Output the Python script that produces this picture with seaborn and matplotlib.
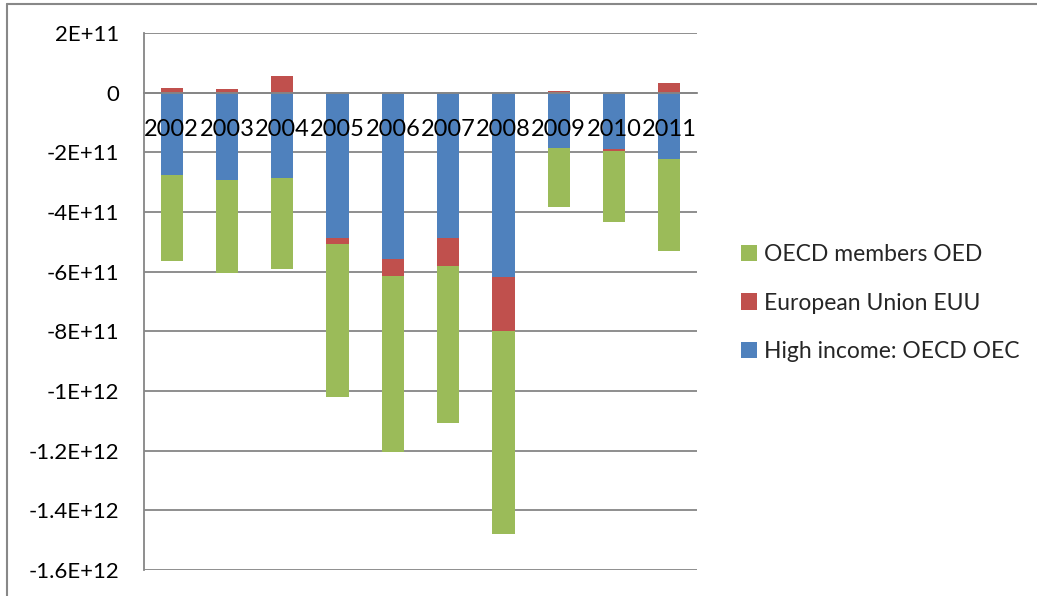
import numpy as np
import pandas as pd
import matplotlib
matplotlib.use("Agg")
import matplotlib.pyplot as plt
from matplotlib.patches import Patch
from matplotlib.lines import Line2D
import seaborn as sns

# data
years = ["2002", "2003", "2004", "2005", "2006", "2007", "2008", "2009", "2010", "2011"]
high_income_oec = [-2.75e11, -2.94e11, -2.85e11, -4.88e11, -5.58e11, -4.88e11, -6.19e11, -1.85e11, -1.89e11, -2.21e11]
european_union_euu = [1.4e10, 1.2e10, 5.7e10, -1.8e10, -5.6e10, -9.3e10, -1.8e11, 5e9, -6e9, 3.3e10]
oecd_members_oed = [-2.89e11, -3.09e11, -3.05e11, -5.13e11, -5.92e11, -5.27e11, -6.81e11, -1.99e11, -2.37e11, -3.09e11]

series_names = ["High income: OECD OEC", "European Union EUU", "OECD members OED"]
y_ticks = [2e11, 0, -2e11, -4e11, -6e11, -8e11, -1e12, -1.2e12, -1.4e12, -1.6e12]
y_tick_labels = ["2E+11", "0", "-2E+11", "-4E+11", "-6E+11", "-8E+11", "-1E+12", "-1.2E+12", "-1.4E+12", "-1.6E+12"]

colors = ["#4F81BD", "#C0504D", "#9BBB59"]
grid_col = "#868686"

sns.set_style("white")
plt.rcParams['font.family'] = ['Lato', 'DejaVu Sans']

W, H = 1037, 596
fig = plt.figure(figsize=(W / 100, H / 100), dpi=100)
ax = fig.add_axes([144 / W, 1 - 570 / H, (697 - 144) / W, (570 - 33) / H])

df = pd.DataFrame({"year": years,
                   series_names[0]: high_income_oec,
                   series_names[1]: european_union_euu,
                   series_names[2]: oecd_members_oed})

# excel-style stacking: positives on positives, negatives on negatives
pos_cum = np.zeros(len(years))
neg_cum = np.zeros(len(years))
for name, col in zip(series_names, colors):
    vals = df[name].to_numpy()
    bottom = np.where(vals >= 0, pos_cum, neg_cum)
    sns.barplot(data=df, x="year", y=name, bottom=bottom, color=col,
                width=0.4, saturation=1, linewidth=0, ax=ax, zorder=1)
    pos_cum = pos_cum + np.where(vals >= 0, vals, 0)
    neg_cum = neg_cum + np.where(vals < 0, vals, 0)

# gridlines under bars, axis labels over bars
for t in y_ticks:
    ax.axhline(t, color=grid_col, lw=1.3, zorder=0.5)
ax.set_axisbelow(False)

ax.set_ylim(-1.6e12, 2e11)
ax.set_xlim(-0.5, len(years) - 0.5)
ax.set_yticks(y_ticks)
ax.set_yticklabels(y_tick_labels)
ax.set_xlabel("")
ax.set_ylabel("")

ax.spines["top"].set_visible(False)
ax.spines["right"].set_visible(False)
ax.spines["left"].set_color(grid_col)
ax.spines["left"].set_linewidth(1.3)
ax.spines["bottom"].set_position(("data", 0))
ax.spines["bottom"].set_color(grid_col)
ax.spines["bottom"].set_linewidth(1.3)

ax.set_xticks(np.arange(-0.5, len(years)), minor=True)
ax.tick_params(axis="x", which="minor", length=7, width=1.3, color=grid_col, direction="out")
ax.tick_params(axis="x", which="major", length=0, pad=19, labelsize=17, labelcolor="black")
ax.tick_params(axis="y", which="major", length=5, width=1.3, color=grid_col, direction="out",
               pad=13, labelsize=16, labelcolor="black")

handles = [Patch(facecolor=c, edgecolor="none", label=n) for n, c in zip(series_names, colors)][::-1]
ax.legend(handles=handles, loc="center left", bbox_to_anchor=(741 / W, 1 - 303 / H),
          bbox_transform=fig.transFigure, frameon=False, fontsize=16.5, borderpad=0,
          borderaxespad=0, handlelength=0.7, handleheight=0.7, handletextpad=0.3,
          labelspacing=1.22)

# chart area border (left and top visible)
fig.add_artist(Line2D([7 / W, 7 / W], [0, 1 - 4 / H], transform=fig.transFigure, color="#888888", lw=1.5))
fig.add_artist(Line2D([7 / W, 1], [1 - 4 / H, 1 - 4 / H], transform=fig.transFigure, color="#888888", lw=1.5))

fig.savefig("out.png", dpi=100)
